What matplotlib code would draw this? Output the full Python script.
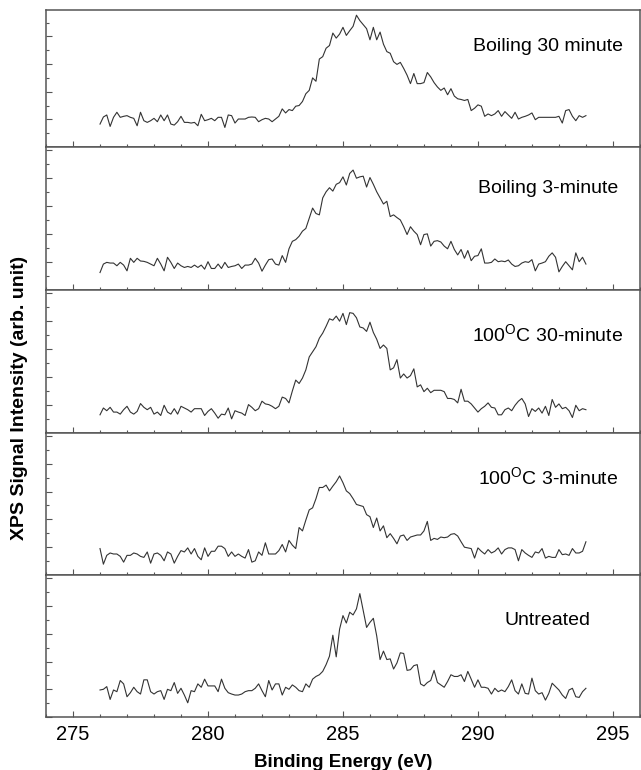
import numpy as np
import matplotlib
matplotlib.use('Agg')
import matplotlib.pyplot as plt
from matplotlib.ticker import MultipleLocator

plt.rcParams['font.family'] = ['Liberation Sans', 'DejaVu Sans']
plt.rcParams['mathtext.fontset'] = 'custom'
plt.rcParams['mathtext.rm'] = 'Liberation Sans'

# binding energy grid (eV), 0.125 eV step
energy = np.linspace(276, 294, 145)

boil_30 = [68, 89, 95, 61, 88, 103, 88, 91, 93, 88, 85, 63, 103, 78, 73, 78, 85, 75, 95, 78,
           95, 68, 65, 75, 91, 73, 73, 71, 73, 63, 97, 78, 81, 85, 78, 88, 88, 58, 95, 93,
           71, 83, 83, 83, 88, 89, 88, 75, 81, 85, 83, 75, 83, 91, 113, 101, 111, 108, 121, 123,
           135, 158, 168, 205, 195, 261, 268, 293, 301, 338, 323, 335, 355, 331, 345, 358, 391, 375, 363, 351,
           318, 355, 318, 341, 305, 283, 278, 253, 245, 251, 233, 213, 188, 218, 188, 188, 191, 221, 208, 191,
           178, 168, 175, 155, 173, 151, 143, 141, 138, 141, 108, 115, 125, 121, 91, 98, 93, 98, 108, 91,
           105, 95, 85, 103, 83, 88, 91, 95, 101, 81, 88, 88, 88, 88, 88, 88, 91, 71, 108, 111,
           91, 78, 93, 88, 93]

boil_3 = [50, 75, 80, 78, 78, 70, 80, 72, 55, 92, 80, 92, 84, 83, 80, 75, 70, 92, 75, 55,
          95, 80, 62, 78, 70, 65, 68, 65, 72, 65, 72, 60, 82, 62, 62, 75, 62, 80, 65, 68,
          70, 75, 62, 72, 72, 75, 92, 78, 54, 72, 88, 90, 75, 72, 100, 80, 120, 142, 147, 157,
          172, 180, 210, 240, 224, 220, 270, 288, 300, 290, 310, 315, 332, 308, 342, 352, 328, 332, 334, 302,
          330, 310, 288, 270, 252, 260, 215, 220, 212, 205, 185, 162, 185, 172, 162, 132, 162, 164, 128, 142,
          144, 140, 128, 120, 142, 118, 102, 118, 92, 115, 85, 98, 100, 120, 78, 78, 80, 90, 82, 84,
          82, 87, 75, 68, 70, 78, 82, 80, 88, 55, 75, 78, 82, 98, 108, 95, 52, 68, 82, 70,
          58, 108, 82, 95, 75]

c100_30 = [52, 72, 64, 74, 60, 60, 54, 67, 77, 60, 54, 62, 85, 74, 67, 74, 54, 60, 50, 80,
           60, 54, 70, 54, 77, 72, 67, 60, 70, 70, 70, 50, 62, 70, 57, 42, 54, 52, 72, 40,
           64, 60, 57, 50, 82, 74, 64, 70, 92, 84, 82, 77, 70, 77, 104, 100, 87, 122, 154, 144,
           160, 184, 222, 237, 252, 277, 292, 312, 334, 330, 342, 327, 350, 317, 352, 350, 337, 310, 307, 297,
           324, 294, 274, 247, 257, 247, 184, 190, 214, 160, 172, 160, 167, 187, 134, 140, 120, 130, 117, 124,
           124, 124, 120, 100, 100, 97, 87, 127, 92, 92, 84, 72, 60, 70, 77, 87, 74, 72, 52, 52,
           67, 72, 64, 80, 92, 100, 84, 47, 70, 62, 72, 57, 77, 50, 97, 74, 84, 70, 74, 64,
           44, 80, 64, 70, 67]

c100_3 = [78, 32, 58, 65, 62, 62, 55, 38, 58, 58, 65, 62, 55, 52, 68, 35, 62, 65, 58, 42,
          68, 62, 35, 55, 72, 68, 80, 62, 78, 55, 45, 80, 55, 70, 70, 85, 85, 78, 55, 68,
          55, 62, 55, 50, 75, 38, 42, 68, 58, 95, 62, 62, 62, 72, 90, 68, 102, 88, 78, 140,
          130, 162, 192, 198, 225, 258, 258, 265, 248, 262, 275, 292, 272, 248, 240, 225, 208, 205, 202, 178,
          172, 140, 168, 130, 145, 110, 122, 108, 92, 115, 118, 102, 112, 115, 118, 118, 130, 158, 102, 108,
          105, 112, 110, 112, 120, 122, 115, 98, 82, 80, 78, 50, 80, 70, 62, 75, 65, 70, 80, 62,
          75, 80, 80, 75, 42, 75, 65, 58, 52, 68, 65, 78, 50, 55, 52, 52, 75, 60, 62, 58,
          78, 65, 65, 70, 98]

untreated = [80, 82, 90, 52, 80, 75, 108, 98, 60, 72, 88, 75, 68, 110, 110, 75, 68, 75, 78, 52,
             82, 78, 102, 70, 85, 65, 42, 78, 75, 98, 88, 112, 92, 92, 92, 75, 112, 85, 72, 68,
             65, 65, 68, 75, 78, 78, 85, 98, 78, 60, 108, 80, 98, 98, 65, 88, 82, 95, 88, 78,
             75, 98, 88, 112, 120, 125, 135, 155, 180, 242, 178, 260, 300, 278, 310, 302, 320, 365, 315, 265,
             280, 292, 240, 170, 195, 170, 172, 142, 160, 190, 188, 138, 140, 152, 155, 98, 92, 102, 108, 138,
             102, 95, 88, 105, 125, 120, 120, 125, 105, 135, 112, 88, 110, 88, 88, 85, 68, 85, 75, 80,
             75, 90, 110, 78, 68, 98, 70, 68, 115, 78, 68, 72, 50, 70, 100, 90, 80, 65, 55, 80,
             85, 60, 58, 75, 85]

series = [boil_30, boil_3, c100_30, c100_3, untreated]
names = ['Boiling 30 minute', 'Boiling 3-minute', r'100$^{\mathrm{O}}$C 30-minute',
         r'100$^{\mathrm{O}}$C 3-minute', 'Untreated']
ytops = [405, 420, 420, 420, 420]

# panel placement in figure fractions (bottom, height)
boxes = [(0.8091, 0.1773), (0.6240, 0.1851), (0.4383, 0.1857), (0.2532, 0.1851), (0.0688, 0.1844)]
label_y = [0.733, 0.712, 0.68, 0.68, 0.683]

fig = plt.figure(figsize=(6.41, 7.70), dpi=100)

for i, (vals, name) in enumerate(zip(series, names)):
    b, h = boxes[i]
    ax = fig.add_axes([0.0718, b, 0.9265, h])
    ax.plot(energy, vals, color='#333333', lw=0.8)
    ax.set_xlim(274, 296)
    ax.set_ylim(0, ytops[i])
    ax.xaxis.set_major_locator(MultipleLocator(5))
    ax.xaxis.set_minor_locator(MultipleLocator(1))
    ax.yaxis.set_major_locator(MultipleLocator(82))
    ax.yaxis.set_minor_locator(MultipleLocator(41))
    ax.tick_params(which='both', direction='in', color='#555555', width=0.8)
    ax.tick_params(which='major', length=4)
    ax.tick_params(which='minor', length=2.5)
    ax.set_yticklabels([])
    for s in ax.spines.values():
        s.set_color('#555555')
        s.set_linewidth(1.1)
    ax.text(0.845, label_y[i], name, transform=ax.transAxes, ha='center', va='center',
            fontsize=14)
    if i < 4:
        ax.set_xticklabels([])
    else:
        ax.tick_params(axis='x', labelsize=14.5, pad=6)
        ax.set_xlabel('Binding Energy (eV)', fontsize=13.5, fontweight='bold', labelpad=7)

fig.text(0.031, 0.483, 'XPS Signal Intensity (arb. unit)', rotation=90, ha='center', va='center',
         fontsize=14, fontweight='bold')

fig.savefig('out.png', dpi=100)
